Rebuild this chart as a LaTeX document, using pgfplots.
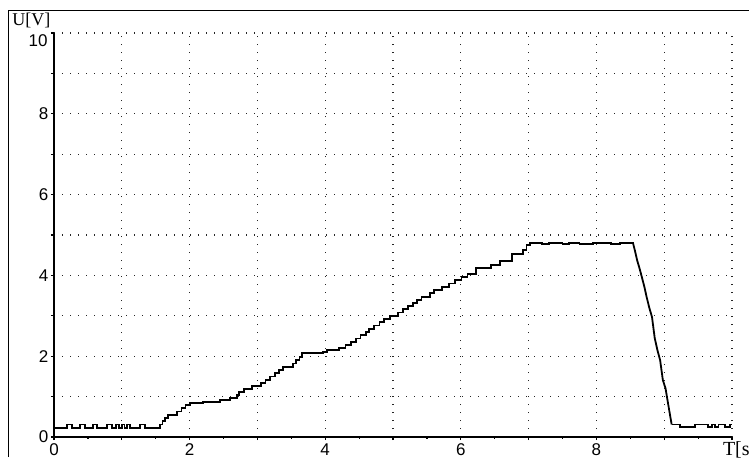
\documentclass[border=0pt]{standalone}
\usepackage{pgfplots}
\pgfplotsset{compat=1.18}
\usepackage{fontspec}
\setmainfont{Liberation Serif}
\newfontfamily\tickfont{Liberation Sans}
\begin{document}
\begin{tikzpicture}[x=1pt,y=1pt]
\path[use as bounding box] (0,0) rectangle (374.5,228.5);
\clip (0,0) rectangle (374.5,228.5);
\draw[line width=0.9pt] (4.25,0) -- (4.25,223.25) -- (374.5,223.25);
\begin{axis}[
  at={(27pt,10pt)}, anchor=south west,
  scale only axis, width=339pt, height=202pt,
  xmin=0, xmax=10, ymin=0, ymax=10,
  axis x line*=bottom, axis y line*=left,
  axis line style={-, line width=0.8pt, black},
  xtick={0,...,10}, xticklabels={0,,2,,4,,6,,8,,},
  minor xtick={0.5,1.5,...,9.5},
  ytick={0,...,10}, yticklabels={0,,2,,4,,6,,8,,},
  tick align=outside, major tick length=1.6pt, minor tick length=0.9pt,
  tick style={black, line width=0.6pt},
  grid=major,
  major grid style={black!85, line width=0.65pt, dash pattern=on 0.65pt off 3.35pt},
  ticklabel style={font=\tickfont\fontsize{8.5}{10}\selectfont},
  yticklabel style={inner sep=1pt},
  xticklabel style={inner sep=1.5pt},
]
\addplot[black, line width=0.9pt, const plot] coordinates {
(0,0.23) (0.19,0.31) (0.27,0.23) (0.38,0.31) (0.46,0.23) (0.57,0.31) (0.63,0.23)
(0.78,0.31) (0.86,0.23) (0.92,0.31) (0.96,0.23) (1.0,0.31) (1.04,0.23) (1.08,0.31)
(1.12,0.23) (1.27,0.31) (1.34,0.23) (1.56,0.31) (1.60,0.39) (1.64,0.47) (1.68,0.55)
(1.82,0.63) (1.88,0.71) (1.94,0.79) (2.0,0.84) (2.2,0.87) (2.45,0.92) (2.6,0.96)
(2.7,1.04) (2.73,1.12) (2.8,1.18) (2.92,1.26) (3.05,1.34) (3.12,1.42) (3.18,1.5)
(3.26,1.58) (3.32,1.66) (3.38,1.74) (3.53,1.82) (3.57,1.9) (3.62,1.98) (3.66,2.07)
(3.97,2.11) (4.03,2.15) (4.2,2.2) (4.3,2.28) (4.38,2.36) (4.45,2.44) (4.52,2.52)
(4.6,2.6) (4.65,2.68) (4.72,2.76) (4.8,2.84) (4.87,2.92) (4.95,3.0) (5.07,3.08)
(5.15,3.16) (5.22,3.24) (5.3,3.32) (5.35,3.4) (5.42,3.47) (5.55,3.56) (5.6,3.64)
(5.72,3.72) (5.82,3.8) (5.92,3.88) (6.01,3.96) (6.1,4.04) (6.22,4.18) (6.45,4.26)
(6.58,4.36) (6.76,4.52) (6.92,4.63) (6.97,4.75) (7.02,4.8) (7.2,4.78) (7.3,4.81)
(7.5,4.78) (7.6,4.81) (7.75,4.78) (7.95,4.81) (8.1,4.8) (8.22,4.78) (8.35,4.81)
(8.54,4.8)
};
\addplot[black, line width=0.9pt] coordinates {
(8.54,4.8) (8.57,4.6) (8.6,4.38) (8.64,4.15) (8.67,3.96) (8.71,3.7) (8.74,3.47)
(8.78,3.2) (8.82,2.97) (8.86,2.45) (8.9,2.15) (8.94,1.9) (8.98,1.41) (9.02,1.2)
(9.05,0.9) (9.08,0.6) (9.11,0.31)
};
\addplot[black, line width=0.9pt, const plot] coordinates {
(9.11,0.31) (9.23,0.24) (9.45,0.31) (9.65,0.24) (9.7,0.31) (9.75,0.24) (9.8,0.31)
(9.9,0.24) (9.97,0.31) (10,0.31)
};
\end{axis}
\node[anchor=north east, inner sep=0, font=\tickfont\fontsize{8.5}{10}\selectfont] at (24,211.5) {10};
\node[anchor=north west, inner sep=0, font=\fontsize{9}{10}\selectfont] at (6,222) {U[V]};
\node[anchor=north west, inner sep=0, font=\fontsize{10}{11}\selectfont] at (361.3,8) {T[s]};
\end{tikzpicture}
\end{document}
